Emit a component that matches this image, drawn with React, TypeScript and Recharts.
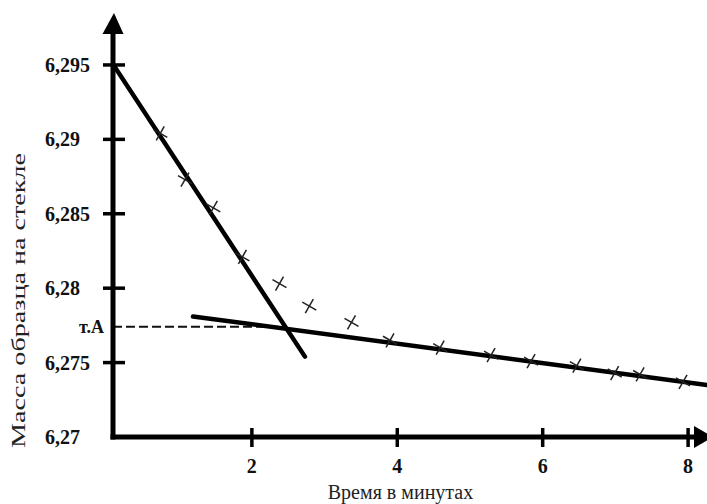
import React from 'react';
import { ComposedChart, Line, Scatter, XAxis, YAxis, ReferenceDot } from 'recharts';

// Measured points (time in minutes, mass in g)
const timeMinutes = [0.74, 1.08, 1.47, 1.87, 2.38, 2.79, 3.37, 3.9, 4.59, 5.29, 5.84, 6.47, 6.99, 7.34, 7.93];
const massValues = [6.2904, 6.2873, 6.2854, 6.2821, 6.2803, 6.2788, 6.2777, 6.2765, 6.276, 6.2755, 6.2751, 6.2748, 6.2743, 6.2742, 6.2737];

// Hand-drawn tangent lines
const steepLineX = [0.11, 2.73];
const steepLineY = [6.2949, 6.2754];
const flatLineX = [1.19, 8.26];
const flatLineY = [6.2781, 6.2735];
// Point A projection
const pointAX = [0.09, 2.48];
const pointAY = 6.2774;

const xDomain = [0.09, 8.26];
const yDomain = [6.27, 6.29708];
const xTicks = [2, 4, 6, 8];
const yTicks = [6.27, 6.275, pointAY, 6.28, 6.285, 6.29, 6.295];
const yTickLabels: Record<string, string> = {
  '6.27': '6,27',
  '6.275': '6,275',
  [String(pointAY)]: 'т.А',
  '6.28': '6,28',
  '6.285': '6,285',
  '6.29': '6,29',
  '6.295': '6,295',
};

const xTitle = 'Время в минутах';
const yTitle = 'Масса образца на стекле';

const FONT = '"Liberation Serif", "Times New Roman", Times, serif';

const scatterData = timeMinutes.map((x, i) => ({ x, y: massValues[i] }));
const steepData = steepLineX.map((x, i) => ({ x, y: steepLineY[i] }));
const flatData = flatLineX.map((x, i) => ({ x, y: flatLineY[i] }));
const dashData = pointAX.map((x) => ({ x, y: pointAY }));

const YTick = (props: any) => {
  const { x, y, payload } = props;
  const v = payload.value;
  const label = yTickLabels[String(v)] ?? String(v);
  const isA = v === pointAY;
  const is0 = v === 6.27;
  return (
    <g>
      {!isA && !is0 && (
        <line x1={x - 10} x2={x + 12} y1={y} y2={y} stroke="#000" strokeWidth={3.5} />
      )}
      <text
        x={isA ? 104 : 45}
        y={y}
        dy="0.35em"
        textAnchor={isA ? 'end' : 'start'}
        style={{ fontFamily: FONT }}
        fontWeight="bold"
        fontSize={isA ? 18 : 20}
        fill="#111"
      >
        {label}
      </text>
    </g>
  );
};

const XTick = (props: any) => {
  const { x, y, payload } = props;
  return (
    <g>
      <line x1={x} x2={x} y1={y - 9} y2={y + 10} stroke="#000" strokeWidth={3.5} />
      <text
        x={x}
        y={466}
        dy="0.35em"
        textAnchor="middle"
        style={{ fontFamily: FONT }}
        fontWeight="bold"
        fontSize={20}
        fill="#111"
      >
        {payload.value}
      </text>
    </g>
  );
};

const CrossShape = (props: any) => {
  const { cx, cy } = props;
  if (cx == null || cy == null) return <g />;
  return (
    <g stroke="#222" strokeWidth={1.5} fill="none">
      <line x1={cx - 7} y1={cy - 4} x2={cx + 7} y2={cy + 4} />
      <line x1={cx - 4} y1={cy + 7} x2={cx + 4} y2={cy - 7} />
    </g>
  );
};

const UpArrow = (props: any) => {
  const { cx, cy } = props;
  return <polygon points={`${cx - 10.5},${cy} ${cx + 10.5},${cy} ${cx + 1},${cy - 21}`} fill="#000" />;
};

const RightArrow = (props: any) => {
  const { cx, cy } = props;
  return <polygon points={`${cx - 13},${cy - 11} ${cx - 13},${cy + 11} ${cx + 6},${cy}`} fill="#000" />;
};

const renderYTitle = () => (
  <text
    x={25}
    y={300.5}
    transform="rotate(-90, 25, 300.5)"
    textAnchor="middle"
    style={{ fontFamily: FONT }}
    fontSize={18}
    fill="#222"
    textLength={295}
    lengthAdjust="spacingAndGlyphs"
  >
    {yTitle}
  </text>
);

const renderXTitle = () => (
  <text x={400.5} y={499} textAnchor="middle" style={{ fontFamily: FONT }} fontSize={20} fill="#222">
    {xTitle}
  </text>
);

export default function App() {
  return (
    <div style={{ position: 'absolute', left: 0, top: 0, width: 707, height: 504, background: '#fff' }}>
      <ComposedChart width={707} height={504} margin={{ top: 34, right: 0, left: 0, bottom: 0 }}>
        <XAxis
          dataKey="x"
          type="number"
          domain={xDomain}
          ticks={xTicks}
          allowDataOverflow
          height={67}
          tickSize={0}
          tickMargin={0}
          tickLine={false}
          axisLine={{ stroke: '#000', strokeWidth: 5, strokeLinecap: 'square' }}
          tick={<XTick />}
          interval={0}
          label={renderXTitle}
        />
        <YAxis
          dataKey="y"
          type="number"
          domain={yDomain}
          ticks={yTicks}
          allowDataOverflow
          width={113}
          tickSize={0}
          tickMargin={0}
          tickLine={false}
          axisLine={{ stroke: '#000', strokeWidth: 5, strokeLinecap: 'square' }}
          tick={<YTick />}
          interval={0}
          label={renderYTitle}
        />
        <Line
          data={dashData}
          dataKey="y"
          stroke="#111"
          strokeWidth={2}
          strokeDasharray="9 4"
          dot={false}
          activeDot={false}
          isAnimationActive={false}
        />
        <Line
          data={steepData}
          dataKey="y"
          stroke="#000"
          strokeWidth={4.5}
          strokeLinecap="round"
          dot={false}
          activeDot={false}
          isAnimationActive={false}
        />
        <Line
          data={flatData}
          dataKey="y"
          stroke="#000"
          strokeWidth={4.5}
          strokeLinecap="round"
          dot={false}
          activeDot={false}
          isAnimationActive={false}
        />
        <Scatter data={scatterData} dataKey="y" shape={<CrossShape />} isAnimationActive={false} />
        <ReferenceDot x={xDomain[0]} y={yDomain[1]} r={0} ifOverflow="visible" shape={<UpArrow />} />
        <ReferenceDot x={xDomain[1]} y={yDomain[0]} r={0} ifOverflow="visible" shape={<RightArrow />} />
      </ComposedChart>
    </div>
  );
}
